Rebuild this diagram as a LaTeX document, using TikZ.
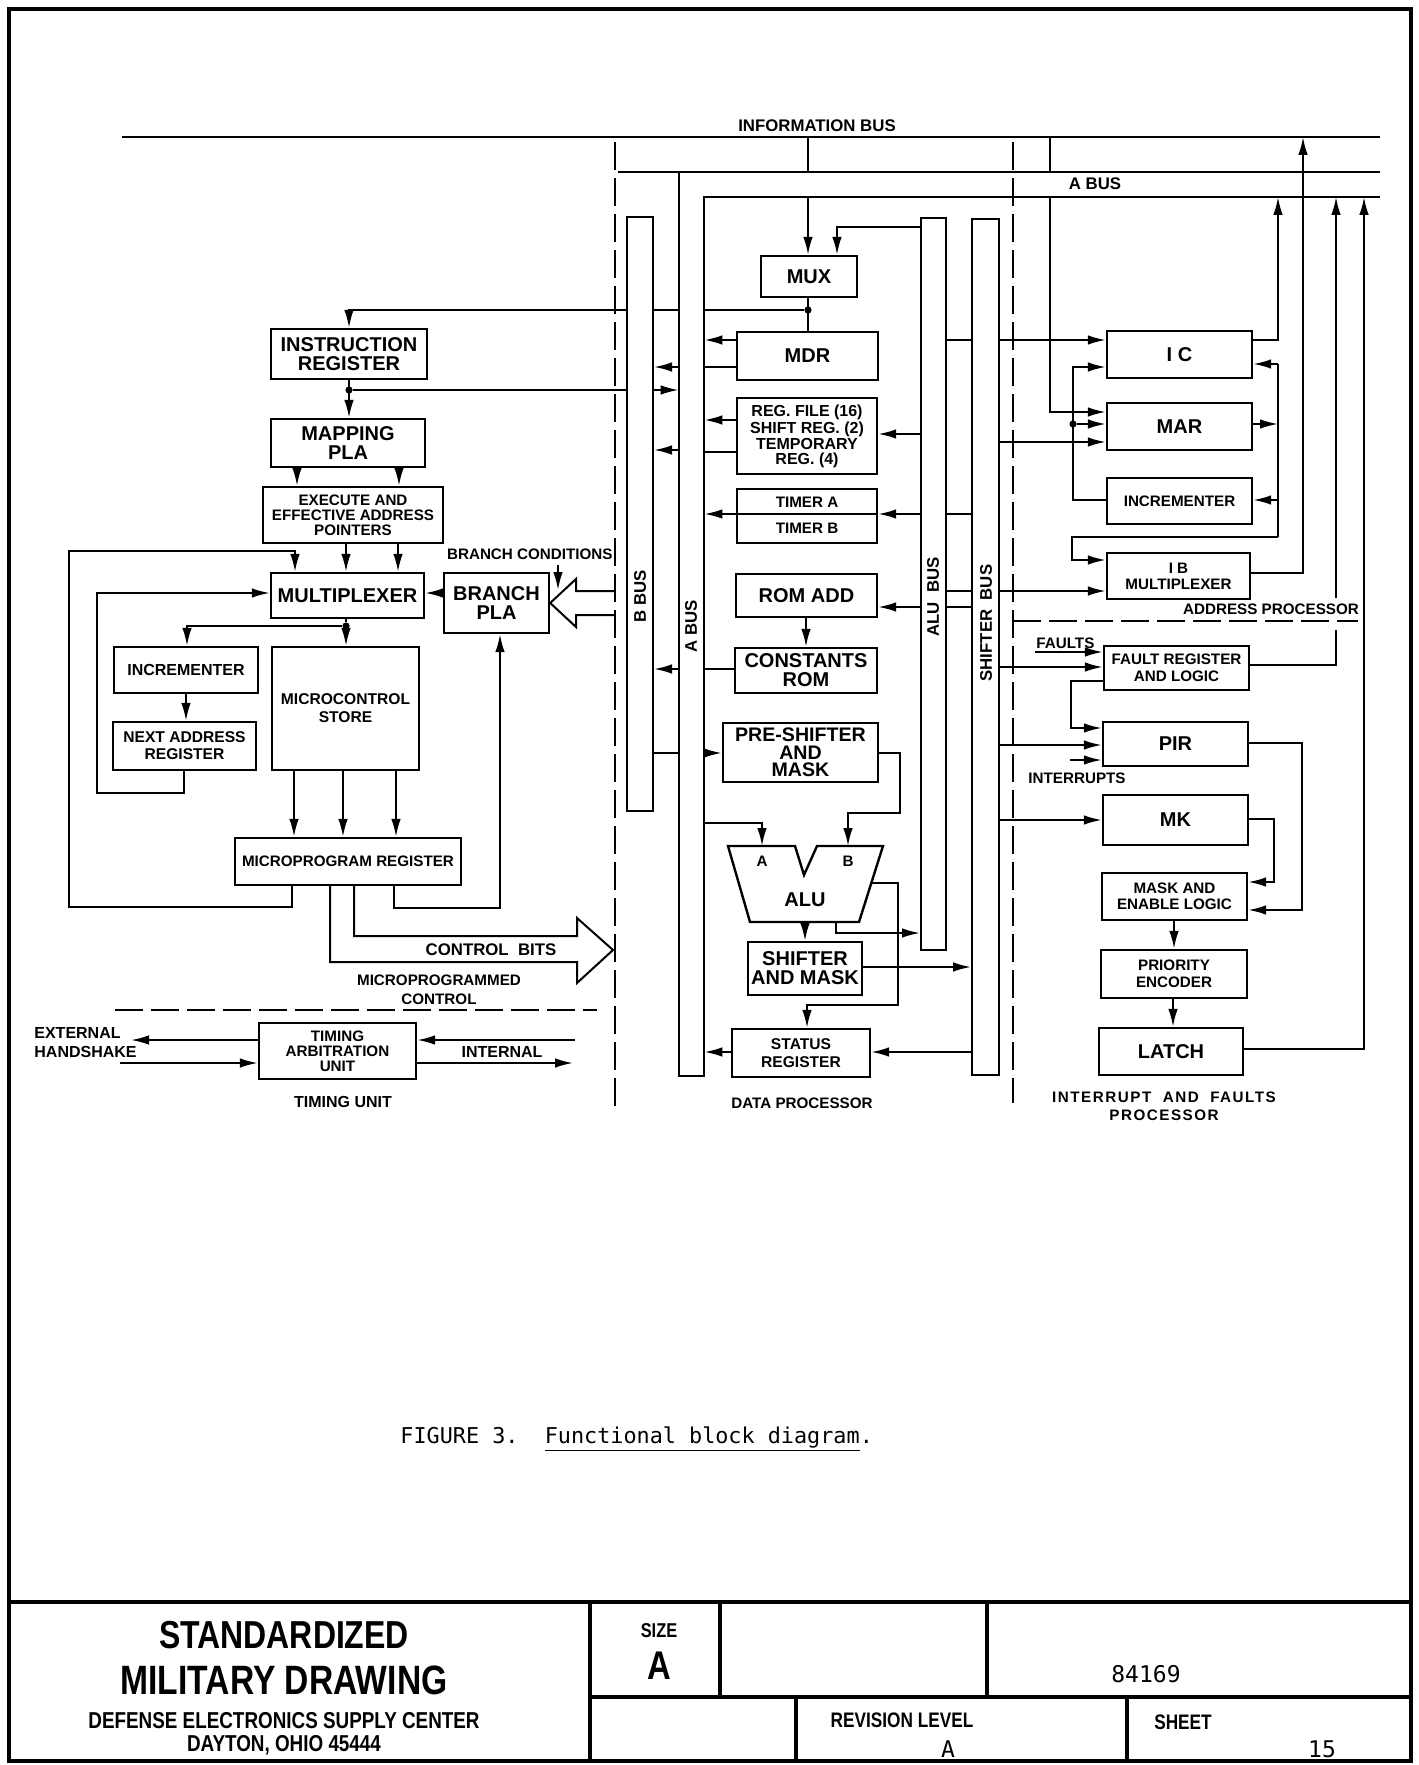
\documentclass[tikz,border=0pt]{standalone}
\usepackage{fontspec}
\setmainfont{Liberation Sans}
\newfontfamily\capfont{DejaVu Sans Mono}
\newfontfamily\condfont[FakeStretch=0.82]{Liberation Sans}
\usetikzlibrary{arrows.meta}
\newcommand{\fbig}{\fontsize{10}{9.5}\selectfont\bfseries}
\newcommand{\fmed}{\fontsize{8.4}{8.6}\selectfont\bfseries}
\newcommand{\fsml}{\fontsize{7.6}{7.9}\selectfont\bfseries}
\newcommand{\fregf}{\fontsize{8}{7.2}\selectfont\bfseries}
\tikzset{
  ln/.style={line width=1pt},
  arr/.style={line width=1pt,-{Latex[length=9pt,width=4.8pt]}},
  box/.style={draw,line width=1.2pt,inner sep=0pt,align=center,font=\fbig},
  dsh/.style={line width=1pt,dash pattern=on 14pt off 4pt},
  dot/.style={circle,fill,inner sep=0pt,minimum size=3.6pt},
  lbl/.style={inner sep=0pt,align=center,font=\fsml},
  tbl/.style={line width=1.7pt},
}
\newcommand{\bx}[7][]{\node[box,minimum width={(#5-#3)*0.5pt},minimum height={(#6-#4)*0.5pt},#1] (#2) at ({(#3+#5)/2},{(#4+#6)/2}) {#7};}
\begin{document}
\begin{tikzpicture}[x=0.5pt,y=-0.5pt]
\useasboundingbox (0,0) rectangle (1418,1765);
\fill[white] (0,0) rectangle (1418,1765);

% ---------------- buses ----------------
\draw[ln] (122,137) -- (1380,137);
\draw[ln] (618,172) -- (1380,172);
\node[inner sep=0pt,minimum width=12.5pt,minimum height=452pt] (abus) at (691.5,624) {};
\draw[ln] (abus.north west) -- (abus.south west) -- (abus.south east) -- (abus.east |- 0,197) -- (1380,197);
\node[lbl,font=\fmed,rotate=90] (abuslbl) at (691,626) {A BUS};
\bx[line width=1pt]{bbus}{627}{217}{653}{811}{}
\node[lbl,font=\fmed,rotate=90] (bbuslbl) at (640,596) {B BUS};
\bx[line width=1pt]{alubus}{921}{218}{946}{950}{}
\node[lbl,font=\fmed,rotate=90] (alulbl) at (933,597) {ALU~~BUS};
\bx[line width=1pt]{shbus}{972}{219}{999}{1075}{}
\node[lbl,font=\fmed,rotate=90] (shlbl) at (986,623) {SHIFTER~~BUS};
\node[lbl,font=\fmed] (infolbl) at (817,126) {INFORMATION BUS};
\node[lbl,font=\fmed] (abushlbl) at (1095,184) {A BUS};

% ---------------- dashed dividers ----------------
\draw[dsh] (615,142) -- (615,1112);
\draw[dsh] (1013,142) -- (1013,1103);
\draw[dsh] (1013,621) -- (1358,621);
\draw[dsh] (115,1010) -- (597,1010);

% ---------------- microprogrammed control ----------------
\bx{ir}{271}{329}{427}{379}{INSTRUCTION\\REGISTER}
\bx{map}{271}{419}{425}{467}{MAPPING\\PLA}
\bx[font=\fontsize{7.6}{7.5}\selectfont\bfseries]{exec}{263}{487}{443}{543}{EXECUTE AND\\EFFECTIVE ADDRESS\\POINTERS}
\bx{muxl}{271}{573}{424}{618}{MULTIPLEXER}
\bx{bpla}{444}{573}{549}{633}{BRANCH\\PLA}
\bx[font=\fontsize{8}{8}\selectfont\bfseries]{incl}{114}{647}{258}{693}{INCREMENTER}
\bx[font=\fontsize{7.8}{8.5}\selectfont\bfseries]{nar}{113}{722}{256}{770}{NEXT ADDRESS\\REGISTER}
\bx[font=\fontsize{7.8}{9}\selectfont\bfseries]{mcs}{272}{647}{419}{770}{MICROCONTROL\\STORE}
\bx[font=\fsml]{mpr}{235}{838}{461}{885}{MICROPROGRAM REGISTER}
\bx[font=\fontsize{7.6}{7.5}\selectfont\bfseries]{tau}{259}{1023}{416}{1079}{TIMING\\ARBITRATION\\UNIT}

\draw[arr] (bbus.west |- 0,310) -| (ir.north);
\node[dot] (j1) at (ir.south |- 0,390) {};
\draw[arr] (ir.south) -- (ir.south |- map.north);
\draw[ln] (j1) -- (bbus.west |- j1);
\draw[arr] (map.south -| 297,0) -- (exec.north -| 297,0);
\draw[arr] (map.south -| 399,0) -- (exec.north -| 399,0);
\draw[arr] (exec.south -| 346,0) -- (muxl.north -| 346,0);
\draw[arr] (exec.south -| 398,0) -- (muxl.north -| 398,0);
\draw[arr] (mpr.south -| 292,0) -- (292,907) -- (69,907) -- (69,551) -- (295,551) -- (muxl.north -| 295,0);
\draw[arr] (nar.south -| 184,0) -- (184,793) -- (97,793) -- (97,593) -- (muxl.west |- 0,593);
\draw[arr] (bpla.west |- 0,593) -- (muxl.east |- 0,593);
\node[dot] (j2) at (346,626) {};
\draw[ln] (muxl.south -| j2) -- (j2);
\draw[arr] (j2) -- (187,626) -- (incl.north -| 187,0);
\draw[arr] (j2) -- (mcs.north -| j2);
\draw[arr] (incl.south -| 186,0) -- (nar.north -| 186,0);
\draw[arr] (mcs.south -| 294,0) -- (mpr.north -| 294,0);
\draw[arr] (mcs.south -| 343,0) -- (mpr.north -| 343,0);
\draw[arr] (mcs.south -| 396,0) -- (mpr.north -| 396,0);
\draw[arr] (mpr.south -| 394,0) -- (394,908) -- (500,908) -- (bpla.south -| 500,0);
% control bits fat arrow
\draw[ln] (mpr.south -| 330,0) -- (330,962) -- (577,962) -- (577,983) -- (613,950) -- (577,918) -- (577,936) -- (354,936) -- (mpr.south -| 354,0);
\node[lbl,font=\fmed] (cbits) at (491,950) {CONTROL~~BITS};
\node[lbl] (mpc1) at (439,980) {MICROPROGRAMMED};
\node[lbl] (mpc2) at (439,999) {CONTROL};
% branch conditions fat arrow
\draw[ln] (615,591) -- (576,591) -- (576,579) -- (bpla.east) -- (576,627) -- (576,615) -- (615,615);
\node[lbl,anchor=east] (bclbl) at (613,554) {BRANCH CONDITIONS};
\draw[arr] (558,565) -- (558,590);
% timing unit
\draw[arr] (tau.west |- 0,1040) -- (131,1040);
\draw[arr] (120,1063) -- (tau.west |- 0,1063);
\draw[arr] (575,1040) -- (tau.east |- 0,1040);
\draw[arr] (tau.east |- 0,1063) -- (573,1063);
\node[lbl,font=\fontsize{8}{8}\selectfont\bfseries,anchor=west] (ext1) at (34,1033) {EXTERNAL};
\node[lbl,font=\fontsize{8}{8}\selectfont\bfseries,anchor=west] (ext2) at (34,1052) {HANDSHAKE};
\node[lbl,font=\fontsize{8}{8}\selectfont\bfseries] (intl) at (502,1052) {INTERNAL};
\node[lbl,font=\fontsize{8}{8}\selectfont\bfseries] (tulbl) at (343,1102) {TIMING UNIT};

% ---------------- data processor ----------------
\bx{mux}{761}{256}{857}{297}{MUX}
\bx{mdr}{737}{332}{878}{380}{MDR}
\bx[font=\fregf]{regf}{737}{398}{877}{474}{REG. FILE (16)\\SHIFT REG. (2)\\TEMPORARY\\REG. (4)}
\bx{timer}{737}{489}{877}{543}{}
\node[lbl] (ta) at (807,502) {TIMER A};
\node[lbl] (tb) at (807,528) {TIMER B};
\bx{romadd}{736}{574}{877}{617}{ROM ADD}
\bx{crom}{735}{648}{877}{693}{CONSTANTS\\ROM}
\bx[font=\fontsize{9.8}{8.7}\selectfont\bfseries]{presh}{723}{723}{878}{782}{PRE-SHIFTER\\AND\\MASK}
\bx{shm}{748}{942}{862}{995}{SHIFTER\\AND MASK}
\bx[font=\fontsize{7.8}{9}\selectfont\bfseries]{stat}{732}{1029}{870}{1077}{STATUS\\REGISTER}
\draw[line width=1.2pt] (728,846) -- (795,846) -- (804,875) -- (817,846) -- (883,846) -- (859,922) -- (750,922) -- cycle;
\node[lbl,font=\fbig] (alu) at (805,900) {ALU};
\node[lbl] (alua) at (762,861) {A};
\node[lbl] (alub) at (848,861) {B};
\coordinate (aluA) at (762,846);
\coordinate (aluB) at (848,846);
\coordinate (aluO) at (805,922);
\coordinate (aluC) at (836,922);
\coordinate (aluR) at (871,883);

\draw[ln] (808,137) -- (808,172);
\draw[arr] (808,197) -- (mux.north -| 808,0);
\draw[arr] (alubus.west |- 0,227) -- (837,227) -- (mux.north -| 837,0);
\node[dot] (j3) at (808,310) {};
\draw[ln] (mux.south -| j3) -- (mdr.north -| j3);
\draw[ln] (j3) -- (abus.east |- j3);
\draw[ln] (abus.west |- j3) -- (bbus.east |- j3);
\draw[arr] (mdr.west |- 0,340) -- (abus.east |- 0,340);
\draw[ln] (abus.east |- 0,367) -- (mdr.west |- 0,367);
\draw[arr] (abus.west |- 0,367) -- (bbus.east |- 0,367);
\draw[arr] (bbus.east |- 0,390) -- (abus.west |- 0,390);
\draw[ln] (alubus.east |- 0,340) -- (shbus.west |- 0,340);
\draw[arr] (regf.west |- 0,420) -- (abus.east |- 0,420);
\draw[ln] (abus.east |- 0,452) -- (regf.west |- 0,452);
\draw[arr] (alubus.west |- 0,434) -- (regf.east |- 0,434);
\draw[arr] (abus.west |- 0,450) -- (bbus.east |- 0,450);
\draw[ln] (timer.west |- 0,514) -- (timer.east |- 0,514);
\draw[arr] (alubus.west |- 0,514) -- (timer.east |- 0,514);
\draw[arr] (timer.west |- 0,514) -- (abus.east |- 0,514);
\draw[ln] (alubus.east |- 0,514) -- (shbus.west |- 0,514);
\draw[arr] (alubus.west |- 0,607) -- (romadd.east |- 0,607);
\draw[arr] (romadd.south -| 806,0) -- (crom.north -| 806,0);
\draw[ln] (alubus.east |- 0,591) -- (shbus.west |- 0,591);
\draw[ln] (alubus.east |- 0,607) -- (shbus.west |- 0,607);
\draw[ln] (abus.east |- 0,669) -- (crom.west |- 0,669);
\draw[arr] (abus.west |- 0,669) -- (bbus.east |- 0,669);
\draw[ln] (bbus.east |- 0,753) -- (abus.west |- 0,753);
\draw[arr] (abus.east |- 0,753) -- (presh.west |- 0,753);
\draw[arr] (presh.east |- 0,753) -- (900,753) -- (900,813) -- (848,813) -- (aluB);
\draw[arr] (abus.east |- 0,823) -- (762,823) -- (aluA);
\draw[arr] (aluO) -- (shm.north -| aluO);
\draw[arr] (aluC) -- (836,933) -- (alubus.west |- 0,933);
\draw[arr] (aluR) -- (898,883) -- (898,1005) -- (807,1005) -- (stat.north -| 807,0);
\draw[arr] (shm.east |- 0,967) -- (shbus.west |- 0,967);
\draw[arr] (stat.west |- 0,1052) -- (abus.east |- 0,1052);
\draw[arr] (shbus.west |- 0,1052) -- (stat.east |- 0,1052);
\node[lbl] (dplbl) at (802,1103) {DATA PROCESSOR};

% ---------------- address processor ----------------
\bx{ic}{1107}{331}{1252}{378}{I C}
\bx{mar}{1107}{403}{1252}{450}{MAR}
\bx[font=\fsml]{incr}{1107}{478}{1252}{524}{INCREMENTER}
\bx[font=\fontsize{7.6}{8}\selectfont\bfseries]{ibmux}{1107}{553}{1250}{599}{I B\\MULTIPLEXER}
\node[lbl,anchor=base] (aplbl) at (1271,614) {ADDRESS PROCESSOR};

\draw[arr] (shbus.east |- 0,340) -- (ic.west |- 0,340);
\draw[arr] (shbus.east |- 0,442) -- (mar.west |- 0,442);
\draw[arr] (shbus.east |- 0,591) -- (ibmux.west |- 0,591);
\draw[ln] (1050,137) -- (1050,172);
\draw[arr] (1050,197) -- (1050,412) -- (mar.west |- 0,412);
\draw[arr] (ic.east |- 0,340) -- (1278,340) -- (1278,197);
\draw[arr] (mar.east |- 0,424) -- (1278,424);
\draw[ln] (1278,364) -- (1278,537);
\draw[arr] (1278,364) -- (ic.east |- 0,364);
\draw[arr] (1278,500) -- (incr.east |- 0,500);
\draw[arr] (1278,537) -- (1072,537) -- (1072,560) -- (ibmux.west |- 0,560);
\draw[arr] (incr.west |- 0,500) -- (1073,500) -- (1073,367) -- (ic.west |- 0,367);
\node[dot] (j4) at (1073,424) {};
\draw[arr] (j4) -- (mar.west |- j4);
\draw[arr] (ibmux.east |- 0,573) -- (1303,573) -- (1303,137);

% ---------------- interrupt and faults processor ----------------
\bx[font=\fontsize{7.6}{8.3}\selectfont\bfseries]{fault}{1104}{646}{1249}{690}{FAULT REGISTER\\AND LOGIC}
\bx{pir}{1103}{722}{1248}{766}{PIR}
\bx{mk}{1103}{795}{1248}{845}{MK}
\bx[font=\fontsize{7.6}{7.8}\selectfont\bfseries]{mask}{1102}{873}{1247}{920}{MASK AND\\ENABLE LOGIC}
\bx[font=\fontsize{7.6}{8.5}\selectfont\bfseries]{prio}{1101}{950}{1247}{998}{PRIORITY\\ENCODER}
\bx{latch}{1099}{1028}{1243}{1075}{LATCH}

\draw[arr] (shbus.east |- 0,667) -- (fault.west |- 0,667);
\draw[arr] (shbus.east |- 0,745) -- (pir.west |- 0,745);
\draw[arr] (shbus.east |- 0,820) -- (mk.west |- 0,820);
\draw[arr] (fault.east |- 0,665) -- (1336,665) -- (1336,630) (1336,598) -- (1336,197);
\draw[arr] (1035,652) -- (fault.west |- 0,652);
\node[lbl,anchor=base west] (fltlbl) at (1036,648) {FAULTS};
\draw[arr] (fault.west |- 0,681) -- (1071,681) -- (1071,728) -- (pir.west |- 0,728);
\draw[arr] (1070,760) -- (pir.west |- 0,760);
\node[lbl] (intlbl) at (1077,778) {INTERRUPTS};
\draw[arr] (pir.east |- 0,743) -- (1302,743) -- (1302,910) -- (mask.east |- 0,910);
\draw[arr] (mk.east |- 0,819) -- (1274,819) -- (1274,882) -- (mask.east |- 0,882);
\draw[arr] (mask.south -| 1174,0) -- (prio.north -| 1174,0);
\draw[arr] (prio.south -| 1173,0) -- (latch.north -| 1173,0);
\draw[arr] (latch.east |- 0,1049) -- (1364,1049) -- (1364,197);
\node[lbl,font=\fsml\addfontfeature{LetterSpace=10}] (iflbl1) at (1164,1097) {INTERRUPT~~AND~~FAULTS};
\node[lbl,font=\fsml\addfontfeature{LetterSpace=10}] (iflbl2) at (1164,1115) {PROCESSOR};

% ---------------- caption ----------------
\node[anchor=base west,inner sep=0pt,font=\capfont\fontsize{10.9}{11}\selectfont] (cap) at (400,1443) {FIGURE~3.~~\underline{Functional~block~diagram}.};

% ---------------- frame and title block ----------------
\draw[line width=2pt] (9,9) rectangle (1411,1761);
\draw[line width=2pt] (9,1602) -- (1411,1602);
\draw[tbl] (590,1697) -- (1411,1697);
\draw[tbl] (590,1602) -- (590,1761);
\draw[tbl] (720,1602) -- (720,1697);
\draw[tbl] (987,1602) -- (987,1697);
\draw[tbl] (796,1697) -- (796,1761);
\draw[tbl] (1127,1697) -- (1127,1761);
\node[inner sep=0pt,font=\condfont\bfseries\fontsize{19.5}{20}\selectfont] (t1) at (284,1635) {STANDARDIZED};
\node[inner sep=0pt,font=\condfont\bfseries\fontsize{20.5}{21}\selectfont] (t2) at (284,1680) {MILITARY DRAWING};
\node[inner sep=0pt,font=\condfont\bfseries\fontsize{11.5}{12}\selectfont] (t3) at (284,1721) {DEFENSE ELECTRONICS SUPPLY CENTER};
\node[inner sep=0pt,font=\condfont\bfseries\fontsize{11.5}{12}\selectfont] (t4) at (284,1745) {DAYTON, OHIO 45444};
\node[inner sep=0pt,font=\condfont\bfseries\fontsize{10}{10}\selectfont] (t5) at (659,1631) {SIZE};
\node[inner sep=0pt,font=\condfont\bfseries\fontsize{20}{20}\selectfont] (t6) at (659,1666) {A};
\node[inner sep=0pt,font=\capfont\fontsize{11.5}{12}\selectfont] (t7) at (1146,1674) {84169};
\node[inner sep=0pt,font=\condfont\bfseries\fontsize{10.5}{10}\selectfont] (t8) at (902,1720) {REVISION LEVEL};
\node[inner sep=0pt,font=\capfont\fontsize{11.5}{12}\selectfont] (t9) at (948,1749) {A};
\node[inner sep=0pt,font=\condfont\bfseries\fontsize{10.5}{10}\selectfont] (t10) at (1183,1722) {SHEET};
\node[inner sep=0pt,font=\capfont\fontsize{11.5}{12}\selectfont] (t11) at (1322,1749) {15};
\end{tikzpicture}
\end{document}
